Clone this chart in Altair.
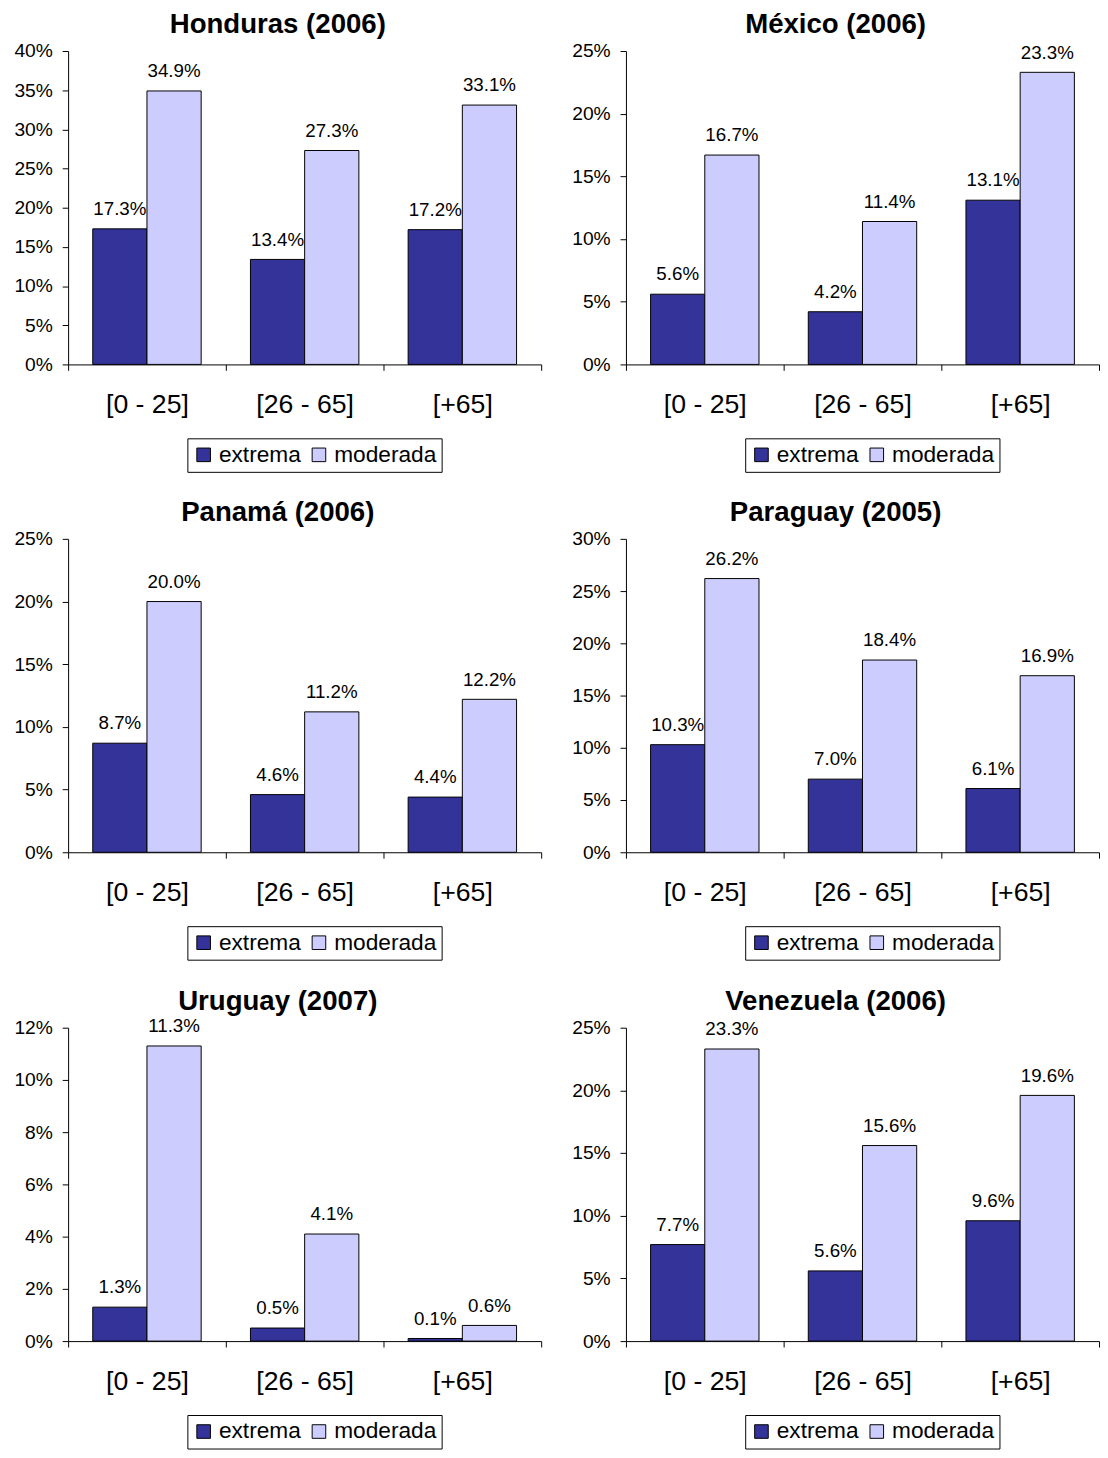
import altair as alt
import pandas as pd

FONT = "Liberation Sans"

groups = ["[0 - 25]", "[26 - 65]", "[+65]"]
series = ["extrema", "moderada"]
colors = ["#333399", "#CCCCFF"]

titles = ["Honduras (2006)", "México (2006)", "Panamá (2006)",
          "Paraguay (2005)", "Uruguay (2007)", "Venezuela (2006)"]

honduras_ext = [17.3, 13.4, 17.2]
honduras_mod = [34.9, 27.3, 33.1]
mexico_ext = [5.6, 4.2, 13.1]
mexico_mod = [16.7, 11.4, 23.3]
panama_ext = [8.7, 4.6, 4.4]
panama_mod = [20.0, 11.2, 12.2]
paraguay_ext = [10.3, 7.0, 6.1]
paraguay_mod = [26.2, 18.4, 16.9]
uruguay_ext = [1.3, 0.5, 0.1]
uruguay_mod = [11.3, 4.1, 0.6]
venezuela_ext = [7.7, 5.6, 9.6]
venezuela_mod = [23.3, 15.6, 19.6]

y_max = [40, 25, 25, 30, 12, 25]
y_step = [5, 5, 5, 5, 2, 5]

ext_all = [honduras_ext, mexico_ext, panama_ext, paraguay_ext, uruguay_ext, venezuela_ext]
mod_all = [honduras_mod, mexico_mod, panama_mod, paraguay_mod, uruguay_mod, venezuela_mod]

W = 480
H = 318


def panel(title, ext, mod, ymax, step):
    rows = []
    for g, e, m in zip(groups, ext, mod):
        rows.append({"grupo": g, "tipo": "extrema", "valor": e / 100})
        rows.append({"grupo": g, "tipo": "moderada", "valor": m / 100})
    df = pd.DataFrame(rows)
    n = int(round(ymax / step))
    ticks = [round(i * step / 100, 4) for i in range(n + 1)]

    base = alt.Chart(df).encode(
        x=alt.X("grupo:N", sort=groups,
                scale=alt.Scale(paddingInner=0, paddingOuter=0),
                axis=alt.Axis(title=None, labelAngle=0, labelFontSize=27,
                              labelPadding=22, tickSize=6, tickBand="extent",
                              domainColor="black", tickColor="black",
                              labelColor="black", labelFont=FONT)),
        xOffset=alt.XOffset("tipo:N", sort=series,
                            scale=alt.Scale(paddingInner=0, paddingOuter=0.4545)),
        y=alt.Y("valor:Q",
                scale=alt.Scale(domain=[0, ymax / 100], nice=False, zero=True),
                axis=alt.Axis(title=None, values=ticks, format=".0%", grid=False,
                              labelFontSize=19.5, tickSize=6, labelPadding=10,
                              domainColor="black", tickColor="black",
                              labelColor="black", labelFont=FONT)),
    )
    bars = base.mark_bar(stroke="black", strokeWidth=1).encode(
        color=alt.Color("tipo:N", sort=series,
                        scale=alt.Scale(domain=series, range=colors),
                        legend=alt.Legend(title=None, orient="none",
                                          legendX=W / 2 - 119, legendY=H + 75,
                                          direction="horizontal",
                                          strokeColor="black", fillColor="white",
                                          padding=5, labelFontSize=23,
                                          labelFont=FONT, labelColor="black",
                                          symbolType="square", symbolSize=190,
                                          symbolStrokeColor="black",
                                          symbolStrokeWidth=1,
                                          columnPadding=6, labelOffset=4))
    )
    labels = base.mark_text(baseline="alphabetic", dy=-14, fontSize=19,
                            font=FONT, color="black").encode(
        text=alt.Text("valor:Q", format=".1%")
    )
    return alt.layer(bars, labels).properties(
        width=W, height=H,
        title=alt.Title(title, fontSize=28, font=FONT, fontWeight="bold",
                        anchor="middle", frame="bounds", offset=2, color="black"),
    )


panels = [panel(titles[i], ext_all[i], mod_all[i], y_max[i], y_step[i]) for i in range(6)]


def row(a, b):
    return alt.hconcat(a, b, spacing=29).resolve_scale(
        color="independent", x="independent", y="independent"
    ).resolve_legend(color="independent")


chart = alt.vconcat(
    row(panels[0], panels[1]),
    row(panels[2], panels[3]),
    row(panels[4], panels[5]),
    spacing=27,
).resolve_scale(
    color="independent", x="independent", y="independent"
).resolve_legend(color="independent").properties(
    padding={"left": 5, "top": -7, "right": 0, "bottom": 0}
).configure(font=FONT).configure_view(stroke=None)

chart.save("out.html", embed_options={"renderer": "svg", "actions": False})
